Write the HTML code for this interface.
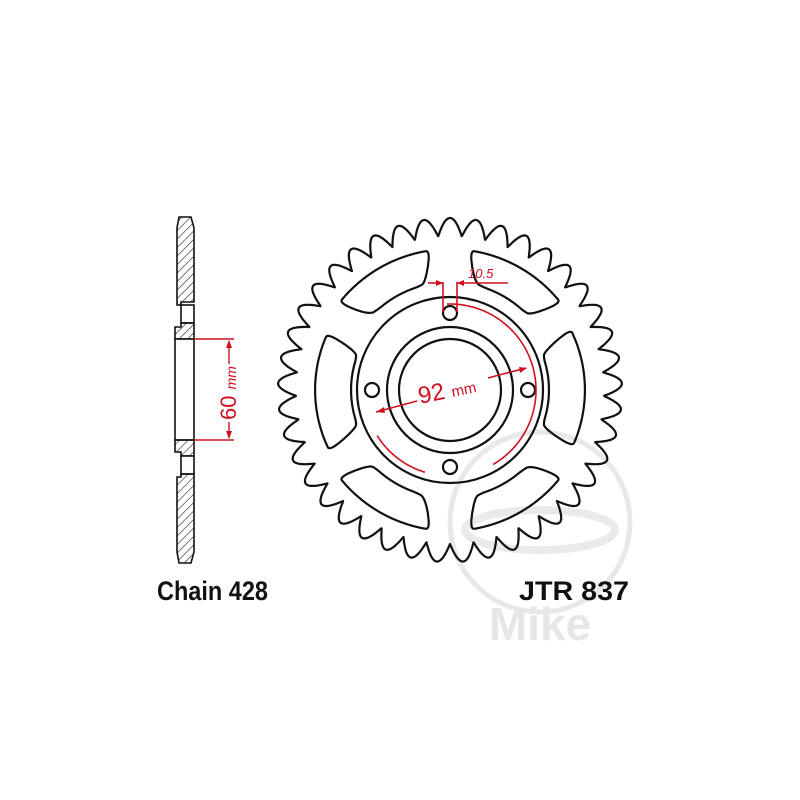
<!DOCTYPE html>
<html><head><meta charset="utf-8"><style>html,body{margin:0;padding:0;background:#fff}svg{display:block}</style></head>
<body>
<svg id="s" width="800" height="800" viewBox="0 0 800 800" xmlns="http://www.w3.org/2000/svg">
<defs>
<pattern id="h" width="6" height="6" patternUnits="userSpaceOnUse" patternTransform="rotate(45)">
<line x1="0" y1="0" x2="0" y2="6" stroke="#222" stroke-width="1.2"/>
</pattern>
</defs>
<circle cx="540" cy="522" r="90" fill="none" stroke="#e8e8e8" stroke-width="5"/>
<ellipse cx="540" cy="530" rx="75" ry="20" fill="none" stroke="#eaeaea" stroke-width="8"/>
<text x="540" y="640" font-family="Liberation Sans, sans-serif" font-weight="bold" font-size="46" fill="#e6e6e6" text-anchor="middle">Mike</text>

<g id="spr" fill="none" stroke="#111" stroke-width="2.2" stroke-linejoin="round"></g>

<g stroke="#111" stroke-width="1.6">
<path d="M179,217 L191,217 L194,228 L194,302 L181,302 L181,305 L177,305 L177,228 Z" fill="url(#h)"/>
<rect x="181" y="305" width="13" height="18" fill="#fff"/>
<path d="M181,323 L194,323 L194,339 L175,339 L175,327 L181,327 Z" fill="url(#h)"/>
<rect x="175" y="339" width="19" height="101" fill="#fff"/>
<path d="M175,440 L194,440 L194,456 L181,456 L181,452 L175,452 Z" fill="url(#h)"/>
<rect x="181" y="456" width="13" height="18" fill="#fff"/>
<path d="M181,474 L194,474 L194,552 L191,563 L179,563 L177,552 L177,477 L181,477 Z" fill="url(#h)"/>
</g>
<g stroke="#d01020" stroke-width="1.4" fill="#d01020">
<line x1="194" y1="339" x2="234" y2="339"/>
<line x1="194" y1="440" x2="234" y2="440"/>
<line x1="229" y1="341" x2="229" y2="364"/>
<line x1="229" y1="422" x2="229" y2="438"/>
<path d="M229,340 L226,348 L232,348 Z" stroke="none"/>
<path d="M229,439 L226,431 L232,431 Z" stroke="none"/>
</g>
<text transform="translate(236,393) rotate(-90)" font-family="Liberation Sans, sans-serif" font-size="22" fill="#d01020" text-anchor="middle">60 <tspan font-size="14" font-style="italic">mm</tspan></text>

<g stroke="#d01020" stroke-width="1.6" fill="none">
<line x1="443" y1="282" x2="443" y2="312"/>
<line x1="457" y1="282" x2="457" y2="312"/>
<line x1="428" y1="283" x2="443" y2="283"/>
<line x1="457" y1="283" x2="508" y2="283"/>
<path id="arc1"/>
<path id="arc2"/>
<line x1="376" y1="412" x2="417" y2="401"/>
<line x1="488" y1="378" x2="526" y2="368"/>
</g>
<g fill="#d01020">
<path d="M443,283 L436,280 L436,286 Z"/>
<path d="M457,283 L464,280 L464,286 Z"/>
<path d="M376,412 L384,407 L385,413 Z"/>
<path d="M527,368 L519,367 L520,373 Z"/>
</g>
<text x="468" y="278" font-family="Liberation Sans, sans-serif" font-size="13" font-style="italic" fill="#d01020">10.5</text>
<text x="420" y="404" font-family="Liberation Sans, sans-serif" font-size="24" fill="#d01020" transform="rotate(-12 420 404)">92 <tspan font-size="15">mm</tspan></text>

<text x="157" y="600" font-family="Liberation Sans, sans-serif" font-weight="bold" font-size="22" fill="#111" textLength="111" lengthAdjust="spacingAndGlyphs" transform="matrix(1,0,0,1.2,0,-120)">Chain 428</text>
<text x="519" y="600" font-family="Liberation Sans, sans-serif" font-weight="bold" font-size="22" fill="#111" textLength="110" lengthAdjust="spacingAndGlyphs" transform="matrix(1,0,0,1.2,0,-120)">JTR 837</text>
</svg>
<script>
(function(){
var cx=450,cy=390,N=41,rt=172,rr=154,P=[];
for(var i=0;i<=3000;i++){var a=i/3000*2*Math.PI;var ph=(a*N/(2*Math.PI))%1;
var c=0.5+0.5*Math.cos(2*Math.PI*ph);
var f=Math.pow(c,0.5);
var r=rr+(rt-rr)*f;
P.push((cx+r*Math.sin(a)).toFixed(1)+','+(cy-r*Math.cos(a)).toFixed(1));}
var g=document.getElementById('spr'),ns='http://www.w3.org/2000/svg';
function el(t,o){var e=document.createElementNS(ns,t);for(var k in o)e.setAttribute(k,o[k]);g.appendChild(e);return e;}
el('path',{d:'M'+P.join(' L')+'Z'});
el('circle',{cx:cx,cy:cy,r:93});el('circle',{cx:cx,cy:cy,r:63});el('circle',{cx:cx,cy:cy,r:51});
[[450,313],[372,390],[528,390],[450,467]].forEach(function(p){el('circle',{cx:p[0],cy:p[1],r:7});});
function pol(r,deg){var t=deg*Math.PI/180;return [cx+r*Math.sin(t),cy-r*Math.cos(t)];}
function chaikin(pts,n){for(var it=0;it<n;it++){var q=[];for(var i=0;i<pts.length;i++){var a=pts[i],b=pts[(i+1)%pts.length];
q.push([0.75*a[0]+0.25*b[0],0.75*a[1]+0.25*b[1]]);q.push([0.25*a[0]+0.75*b[0],0.25*a[1]+0.75*b[1]]);}pts=q;}return pts;}
[[-30,1],[30,1],[90,0],[150,1],[210,1],[270,0]].forEach(function(w){
 var c=w[0],pts=[],ri=w[1]?110:101,ro=w[1]?141:135,s=w[1]?22:27;
 for(var k=-s;k<=s;k+=4){pts.push(pol(ro,c+k));}
 pts.push(pol(ri,c+s-5));
 for(var k=s-9;k>=-s+9;k-=4){pts.push(pol(ri-2,c+k));}
 pts.push(pol(ri,c-s+5));
 pts=chaikin(pts,4);
 var d='M'+pts.map(function(p){return p[0].toFixed(1)+','+p[1].toFixed(1)}).join(' L')+'Z';
 el('path',{d:d});
});
function arc(id,a1,a2,r){var p=[];for(var a=a1;a<=a2;a+=1){var t=a*Math.PI/180;p.push((cx+r*Math.sin(t)).toFixed(1)+','+(cy-r*Math.cos(t)).toFixed(1));}
document.getElementById(id).setAttribute('d','M'+p.join(' L'));}
arc('arc1',-2,150,86);arc('arc2',197,238,86);
})();
</script>
</body></html>
